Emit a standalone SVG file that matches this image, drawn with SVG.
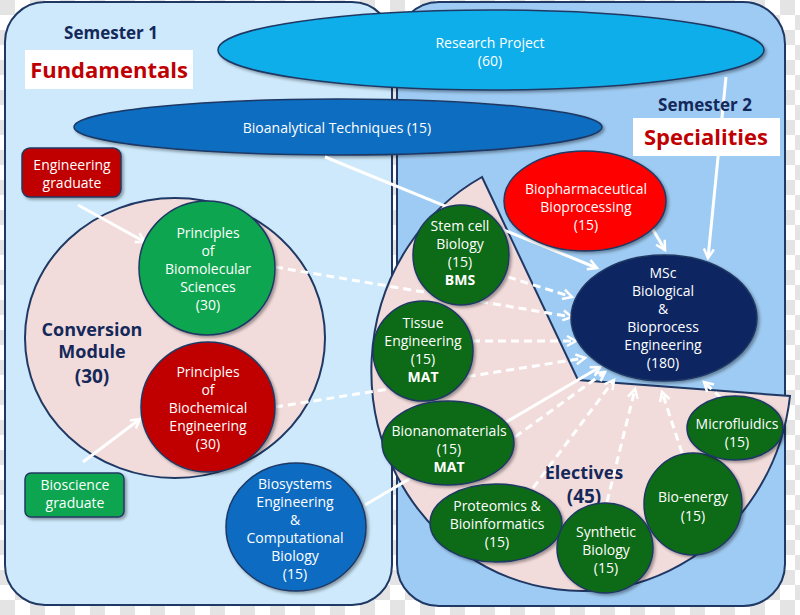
<svg xmlns="http://www.w3.org/2000/svg" width="800" height="615" viewBox="0 0 800 615">
<defs>
<pattern id="chk" width="30" height="30" patternUnits="userSpaceOnUse">
<rect width="30" height="30" fill="#ffffff"/>
<rect width="15" height="15" fill="#e4e4e4"/>
<rect x="15" y="15" width="15" height="15" fill="#e4e4e4"/>
</pattern>
<filter id="sh" x="-20%" y="-20%" width="140%" height="140%">
<feDropShadow dx="2" dy="2" stdDeviation="1.5" flood-color="#000" flood-opacity="0.35"/>
</filter>
<marker id="ah" viewBox="0 0 12 12" refX="10" refY="6" markerWidth="12" markerHeight="12" markerUnits="userSpaceOnUse" orient="auto" overflow="visible">
<path d="M1,1 L10,6 L1,11" fill="none" stroke="#ffffff" stroke-width="2.5" stroke-linejoin="miter"/>
</marker>
</defs>
<style>
.t{font-family:"Open Sans","DejaVu Sans",sans-serif;font-size:14px;fill:#ffffff;text-anchor:middle}
.b{font-weight:bold}
.h{font-family:"Open Sans","DejaVu Sans",sans-serif;font-weight:bold;fill:#14285a;text-anchor:middle}
.r{font-family:"Open Sans","DejaVu Sans",sans-serif;font-weight:bold;fill:#c00000;text-anchor:middle;font-size:22px}
.nd{stroke:#1f3864;stroke-width:1.5;filter:url(#sh)}
.dg{fill:#0d6a17}
.s{fill:none;stroke:#ffffff;stroke-width:3;marker-end:url(#ah)}
.d{fill:none;stroke:#ffffff;stroke-width:3;stroke-dasharray:8 5;marker-end:url(#ah)}
</style>
<rect width="800" height="615" fill="url(#chk)"/>
<g id="semester1-panel"><rect x="5" y="2" width="387" height="603" rx="40" fill="#cde9fb" stroke="#1f3864" stroke-width="2"/></g>
<g id="semester2-panel"><rect x="397" y="2" width="388" height="604" rx="42" fill="#9ecbf3" stroke="#1f3864" stroke-width="2"/></g>
<g id="research-project">
<ellipse cx="491" cy="50" rx="273" ry="40" fill="#10aeea" class="nd"/>
<text class="t" x="490" y="48">Research Project</text>
<text class="t" x="490" y="66">(60)</text>
</g>
<g id="bioanalytical">
<ellipse cx="338" cy="127" rx="264" ry="28" fill="#0b6dc1" class="nd"/>
<text class="t" x="337" y="133">Bioanalytical Techniques (15)</text>
</g>
<g id="conversion-module">
<ellipse cx="175" cy="338" rx="150" ry="140" fill="#f2dcdb" stroke="#1f3864" stroke-width="2"/>
<text class="h" font-size="18" x="92" y="336">Conversion</text>
<text class="h" font-size="18" x="92" y="358">Module</text>
<text class="h" font-size="19" x="92" y="383">(30)</text>
</g>
<g id="electives">
<path d="M482,177 L578,380 L790,396 A210,220 0 1,1 482,177 Z" fill="#f2dcdb" stroke="#1f3864" stroke-width="2"/>
<text class="h" font-size="18" x="584" y="479">Electives</text>
<text class="h" font-size="19" x="584" y="503">(45)</text>
</g>
<g id="connectors">
<line class="s" x1="78" y1="205" x2="145" y2="242"/>
<line class="s" x1="83" y1="462" x2="140" y2="419"/>
<line class="s" x1="325" y1="157" x2="597" y2="268"/>
<line class="s" x1="726" y1="77" x2="708" y2="258"/>
<line class="s" x1="652" y1="228" x2="665" y2="250"/>
<line class="s" x1="365" y1="505" x2="600" y2="367"/>
<line class="d" x1="275" y1="267" x2="572" y2="317"/>
<line class="d" x1="508" y1="277" x2="572" y2="297"/>
<line class="d" x1="275" y1="407" x2="585" y2="358"/>
<line class="d" x1="472" y1="341" x2="576" y2="341"/>
<line class="d" x1="515" y1="437" x2="605" y2="372"/>
<line class="d" x1="533" y1="488" x2="614" y2="380"/>
<line class="d" x1="607" y1="502" x2="635" y2="389"/>
<line class="d" x1="682" y1="453" x2="662" y2="392"/>
<line class="d" x1="721" y1="398" x2="704" y2="382"/>
</g>
<g id="engineering-graduate">
<rect x="22" y="148" width="99" height="49" rx="8" fill="#c00000" class="nd"/>
<text class="t" x="72" y="170">Engineering</text>
<text class="t" x="72" y="188">graduate</text>
</g>
<g id="bioscience-graduate">
<rect x="25" y="473" width="99" height="44" rx="6" fill="#10a550" class="nd"/>
<text class="t" x="75" y="490">Bioscience</text>
<text class="t" x="75" y="508">graduate</text>
</g>
<g id="biomolecular">
<ellipse cx="207" cy="268" rx="68" ry="67" fill="#10a550" class="nd"/>
<text class="t" x="208" y="238">Principles</text>
<text class="t" x="208" y="256">of</text>
<text class="t" x="208" y="274">Biomolecular</text>
<text class="t" x="208" y="292">Sciences</text>
<text class="t" x="208" y="310">(30)</text>
</g>
<g id="biochemical">
<ellipse cx="208" cy="407" rx="67" ry="65" fill="#c00000" class="nd"/>
<text class="t" x="208" y="377">Principles</text>
<text class="t" x="208" y="395">of</text>
<text class="t" x="208" y="413">Biochemical</text>
<text class="t" x="208" y="431">Engineering</text>
<text class="t" x="208" y="449">(30)</text>
</g>
<g id="biosystems">
<ellipse cx="296" cy="527" rx="70" ry="64" fill="#0a6cc2" class="nd"/>
<text class="t" x="295" y="489">Biosystems</text>
<text class="t" x="295" y="507">Engineering</text>
<text class="t" x="295" y="525">&amp;</text>
<text class="t" x="295" y="543">Computational</text>
<text class="t" x="295" y="561">Biology</text>
<text class="t" x="295" y="579">(15)</text>
</g>
<g id="biopharmaceutical">
<ellipse cx="585" cy="201" rx="81" ry="50" fill="#ff0000" class="nd"/>
<text class="t" x="586" y="194">Biopharmaceutical</text>
<text class="t" x="586" y="212">Bioprocessing</text>
<text class="t" x="586" y="230">(15)</text>
</g>
<g id="msc">
<ellipse cx="664" cy="318" rx="93" ry="63" fill="#0d2562" class="nd"/>
<text class="t" x="663" y="278">MSc</text>
<text class="t" x="663" y="296">Biological</text>
<text class="t" x="663" y="314">&amp;</text>
<text class="t" x="663" y="332">Bioprocess</text>
<text class="t" x="663" y="350">Engineering</text>
<text class="t" x="663" y="368">(180)</text>
</g>
<g id="stem-cell">
<ellipse cx="461" cy="255" rx="48" ry="50" class="nd dg"/>
<text class="t" x="460" y="231">Stem cell</text>
<text class="t" x="460" y="249">Biology</text>
<text class="t" x="460" y="267">(15)</text>
<text class="t b" x="460" y="285">BMS</text>
</g>
<g id="tissue">
<ellipse cx="423" cy="351" rx="50" ry="50" class="nd dg"/>
<text class="t" x="423" y="328">Tissue</text>
<text class="t" x="423" y="346">Engineering</text>
<text class="t" x="423" y="364">(15)</text>
<text class="t b" x="423" y="382">MAT</text>
</g>
<g id="bionanomaterials">
<ellipse cx="448" cy="443" rx="66" ry="42" class="nd dg"/>
<text class="t" x="449" y="436">Bionanomaterials</text>
<text class="t" x="449" y="454">(15)</text>
<text class="t b" x="449" y="472">MAT</text>
</g>
<g id="proteomics">
<ellipse cx="496" cy="523" rx="66" ry="39" class="nd dg"/>
<text class="t" x="497" y="511">Proteomics &amp;</text>
<text class="t" x="497" y="529">Bioinformatics</text>
<text class="t" x="497" y="547">(15)</text>
</g>
<g id="synthetic">
<ellipse cx="605" cy="548" rx="48" ry="45" class="nd dg"/>
<text class="t" x="606" y="537">Synthetic</text>
<text class="t" x="606" y="555">Biology</text>
<text class="t" x="606" y="573">(15)</text>
</g>
<g id="bio-energy">
<ellipse cx="693" cy="504" rx="49" ry="51" class="nd dg"/>
<text class="t" x="693" y="502">Bio-energy</text>
<text class="t" x="693" y="521">(15)</text>
</g>
<g id="microfluidics">
<ellipse cx="735" cy="428" rx="48" ry="32" class="nd dg"/>
<text class="t" x="737" y="429">Microfluidics</text>
<text class="t" x="737" y="447">(15)</text>
</g>
<g id="labels">
<text class="h" font-size="17" x="111" y="39">Semester 1</text>
<rect x="25" y="50" width="168" height="39" fill="#ffffff"/>
<text class="r" x="109" y="78">Fundamentals</text>
<text class="h" font-size="17" x="705" y="111">Semester 2</text>
<rect x="633" y="118" width="147" height="38" fill="#ffffff"/>
<text class="r" x="706" y="145">Specialities</text>
</g>
</svg>
